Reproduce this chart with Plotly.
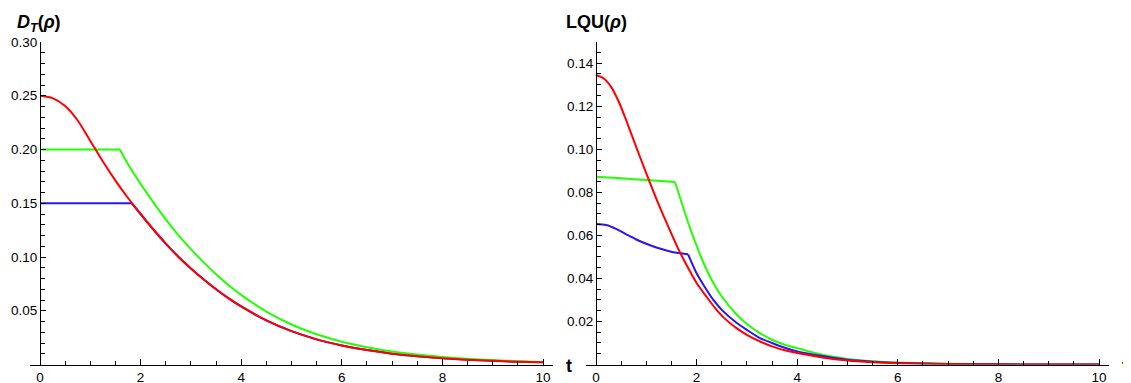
import plotly.graph_objects as go

# ---------------- data ----------------
# Left panel: D_T(rho)
t_dt_red = [0, 0.25, 0.5, 0.75, 1.0, 1.25, 1.5, 1.75, 2.0, 2.25, 2.5, 2.75, 3.0, 3.25,
            3.5, 3.75, 4.0, 4.5, 5.0, 5.5, 6.0, 6.5, 7.0, 7.5, 8.0, 8.5, 9.0, 9.5, 10.0]
dt_red = [0.250, 0.2478, 0.2405, 0.2270, 0.2080, 0.1888, 0.1711, 0.1549, 0.1400, 0.1258,
          0.1125, 0.1003, 0.0894, 0.0793, 0.0700, 0.0615, 0.0540, 0.0410, 0.0310,
          0.0234, 0.0177, 0.0134, 0.0101, 0.0077, 0.0058, 0.0044, 0.0034, 0.0026, 0.0020]

t_dt_green = [0, 0.5, 1.0, 1.59, 1.75, 2.0, 2.25, 2.5, 2.75, 3.0, 3.25, 3.5, 3.75, 4.0,
              4.5, 5.0, 5.5, 6.0, 6.5, 7.0, 7.5, 8.0, 8.5, 9.0, 9.5, 10.0]
dt_green = [0.200, 0.200, 0.200, 0.200, 0.1862, 0.1680, 0.1510, 0.1350, 0.1204, 0.1073,
            0.0952, 0.0840, 0.0738, 0.0648, 0.0492, 0.0372, 0.0281, 0.0212, 0.0161,
            0.0121, 0.0092, 0.0070, 0.0053, 0.0041, 0.0031, 0.0024]
dt_green_kink = 3

t_dt_blue = [0, 0.5, 1.0, 1.5, 1.823, 2.0, 2.25, 2.5, 2.75, 3.0, 3.25, 3.5, 3.75, 4.0,
             4.5, 5.0, 5.5, 6.0, 6.5, 7.0, 7.5, 8.0, 8.5, 9.0, 9.5, 10.0]
dt_blue = [0.150, 0.150, 0.150, 0.150, 0.150, 0.1400, 0.1258, 0.1125, 0.1003, 0.0894,
           0.0793, 0.0700, 0.0615, 0.0540, 0.0410, 0.0310, 0.0234, 0.0177, 0.0134,
           0.0101, 0.0077, 0.0058, 0.0044, 0.0034, 0.0026, 0.0020]
dt_blue_kink = 4

# Right panel: LQU(rho)
t_lqu_red = [0, 0.15, 0.3, 0.45, 0.6, 0.8, 1.0, 1.2, 1.4, 1.6, 1.8, 2.0, 2.2, 2.4, 2.6,
             2.8, 3.0, 3.25, 3.5, 3.75, 4.0, 4.5, 5.0, 5.5, 6.0, 6.5, 7.0, 8.0, 9.0, 10.0]
lqu_red = [0.1345, 0.1330, 0.1290, 0.1222, 0.1135, 0.1010, 0.0888, 0.0770, 0.0660,
           0.0555, 0.0462, 0.0379, 0.0314, 0.0253, 0.0205, 0.0168, 0.0138, 0.0108,
           0.0084, 0.0066, 0.0053, 0.0033, 0.0019, 0.0011, 0.0006, 0.00035, 0.0002,
           0.00007, 0.00002, 0.0]

t_lqu_green = [0, 0.5, 1.0, 1.571, 1.736, 1.869, 2.0, 2.134, 2.33, 2.5, 2.8, 3.0, 3.25,
               3.5, 3.75, 4.0, 4.5, 5.0, 5.5, 6.0, 7.0, 8.0, 9.0, 10.0]
lqu_green = [0.0872, 0.0865, 0.0857, 0.0848, 0.0727, 0.0634, 0.0552, 0.0474, 0.0380,
             0.0316, 0.0231, 0.0188, 0.0147, 0.0115, 0.0092, 0.0076, 0.0045, 0.0026,
             0.0015, 0.0009, 0.0003, 0.0001, 0.00003, 0.00001]
lqu_green_kink = 3

t_lqu_blue = [0, 0.2, 0.4, 0.6, 0.8, 1.0, 1.2, 1.4, 1.6, 1.83, 2.0, 2.134, 2.33, 2.5,
              2.8, 3.0, 3.25, 3.5, 3.75, 4.0, 4.5, 5.0, 5.5, 6.0, 7.0, 8.0, 9.0, 10.0]
lqu_blue = [0.0653, 0.0648, 0.0630, 0.0605, 0.0581, 0.0561, 0.0544, 0.0530, 0.0519,
            0.0512, 0.0424, 0.0371, 0.0301, 0.0254, 0.0193, 0.0161, 0.0124, 0.0100,
            0.0078, 0.0061, 0.0039, 0.0022, 0.0013, 0.0007, 0.00025, 0.00008,
            0.00002, 0.0]
lqu_blue_kink = 9

x_tickvals = [0, 2, 4, 6, 8, 10]
x_ticktext = ["0", "2", "4", "6", "8", "10"]
dt_tickvals = [0.05, 0.10, 0.15, 0.20, 0.25, 0.30]
dt_ticktext = ["0.05", "0.10", "0.15", "0.20", "0.25", "0.30"]
lqu_tickvals = [0.02, 0.04, 0.06, 0.08, 0.10, 0.12, 0.14]
lqu_ticktext = ["0.02", "0.04", "0.06", "0.08", "0.10", "0.12", "0.14"]

RED = "#ff0000"
GREEN = "#22ff00"
BLUE = "#2a14f0"
LW = 2

# The page body has an 8px margin, so the figure is drawn 8px right/down.
OFF = 8
W, H = 1131 - OFF, 383 - OFF
FONT = "Liberation Sans, Arial, sans-serif"

fig = go.Figure()


def add_series(t, v, color, xa, ya, kink=None):
    if kink is None:
        segs = [(t, v)]
    else:
        segs = [(t[:kink + 1], v[:kink + 1]), (t[kink:], v[kink:])]
    for tt, vv in segs:
        fig.add_trace(go.Scatter(x=tt, y=vv, mode="lines", xaxis=xa, yaxis=ya,
                                 line=dict(color=color, width=LW, shape="spline", smoothing=0.7),
                                 showlegend=False, hoverinfo="skip"))


add_series(t_dt_blue, dt_blue, BLUE, "x", "y", dt_blue_kink)
add_series(t_dt_green, dt_green, GREEN, "x", "y", dt_green_kink)
add_series(t_dt_red, dt_red, RED, "x", "y")

add_series(t_lqu_green, lqu_green, GREEN, "x2", "y2", lqu_green_kink)
add_series(t_lqu_blue, lqu_blue, BLUE, "x2", "y2", lqu_blue_kink)
add_series(t_lqu_red, lqu_red, RED, "x2", "y2")

# pixel geometry (reference window pixels)
ppu = 50.3
L0, R0 = 40.0, 596.0
pad = 0.2
ybot_px, ytop_left, ytop_right = 364.5, 42.0, 41.7


def fx(px):
    return (px - OFF) / W


def fy(py):
    return 1 - (py - OFF) / H


common_x = dict(range=[-pad, 10 + pad], showline=True, linecolor="black", linewidth=1,
                ticks="inside", ticklen=6, tickwidth=1, tickcolor="black",
                tickmode="array", tickvals=x_tickvals, ticktext=x_ticktext,
                showgrid=False, zeroline=False, automargin=False,
                minor=dict(ticks="inside", ticklen=3.5, tickwidth=1, tickcolor="black",
                           dtick=0.5, tick0=0, showgrid=False),
                tickfont=dict(family=FONT, size=13.5, color="black"))
common_y = dict(showline=True, linecolor="black", linewidth=1,
                ticks="inside", ticklen=5, tickwidth=1, tickcolor="black",
                tickmode="array", showgrid=False, zeroline=False, automargin=False,
                tickfont=dict(family=FONT, size=13.5, color="black"))

fig.update_layout(
    template="none",
    width=W, height=H, autosize=False,
    margin=dict(l=0, r=0, t=0, b=0, pad=0),
    paper_bgcolor="white", plot_bgcolor="white",
    font=dict(family=FONT, size=13.5, color="black"),
    xaxis=dict(domain=[fx(L0 - pad * ppu), fx(L0 + (10 + pad) * ppu)], anchor="y", **common_x),
    yaxis=dict(domain=[fy(ybot_px), fy(ytop_left)], anchor="free", position=fx(L0),
               range=[0, 0.30], tickvals=dt_tickvals, ticktext=dt_ticktext,
               minor=dict(ticks="inside", ticklen=3.5, tickwidth=1, tickcolor="black",
                          dtick=0.01, tick0=0, showgrid=False),
               **common_y),
    xaxis2=dict(domain=[fx(R0 - pad * ppu), fx(R0 + (10 + pad) * ppu)], anchor="y2", **common_x),
    yaxis2=dict(domain=[fy(ybot_px), fy(ytop_right)], anchor="free", position=fx(R0),
                range=[0, 0.15], tickvals=lqu_tickvals, ticktext=lqu_ticktext,
                minor=dict(ticks="inside", ticklen=3.5, tickwidth=1, tickcolor="black",
                           dtick=0.005, tick0=0, showgrid=False),
                **common_y),
)

ann_font = dict(family=FONT, size=18, color="black")
fig.add_annotation(x=fx(15), y=fy(23), xref="paper", yref="paper", xanchor="left",
                   yanchor="middle", showarrow=False, font=ann_font,
                   text="<b><i>D</i><sub><i>T</i></sub>(<i>ρ</i>)</b>")
fig.add_annotation(x=fx(564), y=fy(22), xref="paper", yref="paper", xanchor="left",
                   yanchor="middle", showarrow=False, font=ann_font,
                   text="<b>LQU(<i>ρ</i>)</b>")
fig.add_annotation(x=fx(564), y=fy(366), xref="paper", yref="paper", xanchor="left",
                   yanchor="middle", showarrow=False, font=ann_font, text="<b>t</b>")
fig.add_annotation(x=fx(1120), y=fy(366), xref="paper", yref="paper", xanchor="left",
                   yanchor="middle", showarrow=False, font=ann_font, text="<b>t</b>")

fig.write_html("out.html")
